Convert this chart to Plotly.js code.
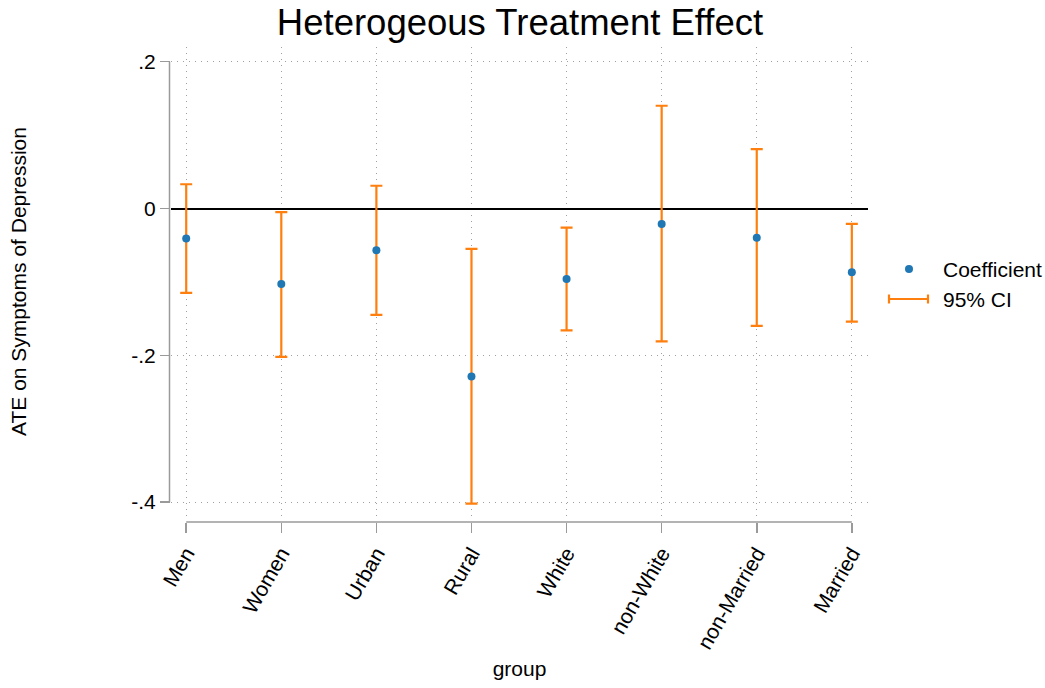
<!DOCTYPE html>
<html>
<head>
<meta charset="utf-8">
<script src="https://cdn.plot.ly/plotly-3.0.1.min.js"></script>
<style>html,body{margin:0;padding:0;background:#fff;}#chart{width:1045px;height:688px;}</style>
</head>
<body>
<div id="chart"></div>
<script>
// ---- data ----
var groups = ['Men', 'Women', 'Urban', 'Rural', 'White', 'non-White', 'non-Married', 'Married'];
var coef   = [-0.041, -0.103, -0.057, -0.229, -0.096, -0.021, -0.040, -0.087];
var ciLow  = [-0.115, -0.202, -0.145, -0.402, -0.166, -0.181, -0.160, -0.154];
var ciHigh = [ 0.033, -0.005,  0.031, -0.055, -0.026,  0.140,  0.081, -0.021];
var yTickVals = [-0.4, -0.2, 0, 0.2];
var yTickText = ['-.4', '-.2', '0', '.2'];
var legendLabels = ['Coefficient', '95% CI'];

// ---- layout geometry (pixels) ----
var W = 1045, H = 688;
var L = 171, R = 177, T = 47, B = 166;
var pw = W - L - R, ph = H - T - B;
function px(x) { return (x - L) / pw; }
function py(y) { return (H - B - y) / ph; }

var FONT = 'Liberation Sans, Arial, Helvetica, sans-serif';
var BLUE = '#1f77b4', ORANGE = '#ff7f0e', AXIS = '#9a9a9a', GRID = '#a0a0a0';
var FS = 21;

var errPlus = coef.map(function (c, i) { return ciHigh[i] - c; });
var errMinus = coef.map(function (c, i) { return c - ciLow[i]; });

var traces = [
  {
    type: 'scatter', mode: 'markers', name: legendLabels[1],
    x: groups, y: coef,
    marker: { size: 8, color: BLUE, opacity: 0 },
    error_y: { type: 'data', symmetric: false, array: errPlus, arrayminus: errMinus,
               color: ORANGE, thickness: 2.2, width: 6 },
    showlegend: false, hoverinfo: 'skip'
  },
  {
    type: 'scatter', mode: 'markers', name: legendLabels[0],
    x: groups, y: coef,
    marker: { size: 8, color: BLUE },
    showlegend: false
  }
];

var shapes = [
  // y axis line (spans tick range)
  { type: 'line', xref: 'paper', yref: 'y', x0: px(169.5), x1: px(169.5),
    y0: yTickVals[0], y1: yTickVals[yTickVals.length - 1],
    line: { color: AXIS, width: 1.5 } },
  // x axis line (spans categories)
  { type: 'line', xref: 'x', yref: 'paper', x0: groups[0], x1: groups[groups.length - 1],
    y0: 0, y1: 0, line: { color: AXIS, width: 1.5 } },
  // legend: coefficient dot
  { type: 'circle', xref: 'paper', yref: 'paper',
    x0: px(905), x1: px(913), y0: py(265), y1: py(273),
    fillcolor: BLUE, line: { width: 0 } },
  // legend: CI line with caps
  { type: 'line', xref: 'paper', yref: 'paper', x0: px(889), x1: px(928), y0: py(299), y1: py(299),
    line: { color: ORANGE, width: 2.2 } },
  { type: 'line', xref: 'paper', yref: 'paper', x0: px(889), x1: px(889), y0: py(294.5), y1: py(303.5),
    line: { color: ORANGE, width: 2.2 } },
  { type: 'line', xref: 'paper', yref: 'paper', x0: px(928), x1: px(928), y0: py(294.5), y1: py(303.5),
    line: { color: ORANGE, width: 2.2 } }
];

var annotations = [
  { xref: 'paper', yref: 'paper', x: px(941), y: py(269), xanchor: 'left', yanchor: 'middle',
    text: legendLabels[0], showarrow: false, font: { family: FONT, size: FS, color: '#000' } },
  { xref: 'paper', yref: 'paper', x: px(941), y: py(299), xanchor: 'left', yanchor: 'middle',
    text: legendLabels[1], showarrow: false, font: { family: FONT, size: FS, color: '#000' } }
];

var layout = {
  width: W, height: H,
  margin: { l: L, r: R, t: T, b: B, pad: 0 },
  paper_bgcolor: '#fff', plot_bgcolor: '#fff',
  font: { family: FONT, size: FS, color: '#000' },
  showlegend: false,
  title: { text: 'Heterogeous Treatment Effect', font: { family: FONT, size: 36.5, color: '#000' },
           x: 520 / W, xanchor: 'center', y: 1 - 22 / H, yanchor: 'middle', yref: 'container' },
  xaxis: {
    type: 'category', range: [-0.16, 7.17], anchor: 'free', position: 0,
    showgrid: true, gridcolor: GRID, griddash: '1px,5px', gridwidth: 1,
    ticks: 'outside', ticklen: 10, tickwidth: 1.5, tickcolor: AXIS,
    tickangle: -60, tickfont: { family: FONT, size: FS, color: '#000' },
    showline: false, zeroline: false,
    title: { text: 'group', font: { family: FONT, size: FS, color: '#000' }, standoff: 9 }
  },
  yaxis: {
    domain: [(522 - 516) / ph, 1],
    range: [-0.4189, 0.2200],
    tickvals: yTickVals, ticktext: yTickText,
    showgrid: true, gridcolor: GRID, griddash: '1px,5px', gridwidth: 1,
    zeroline: true, zerolinecolor: '#000', zerolinewidth: 2,
    ticks: 'outside', ticklen: 10, tickwidth: 1.5, tickcolor: AXIS,
    tickfont: { family: FONT, size: FS, color: '#000' },
    showline: false,
    title: { text: 'ATE on Symptoms of Depression', font: { family: FONT, size: FS, color: '#000' }, standoff: 98 }
  },
  shapes: shapes,
  annotations: annotations
};

Plotly.newPlot('chart', traces, layout, { displayModeBar: false, staticPlot: true });
</script>
</body>
</html>
